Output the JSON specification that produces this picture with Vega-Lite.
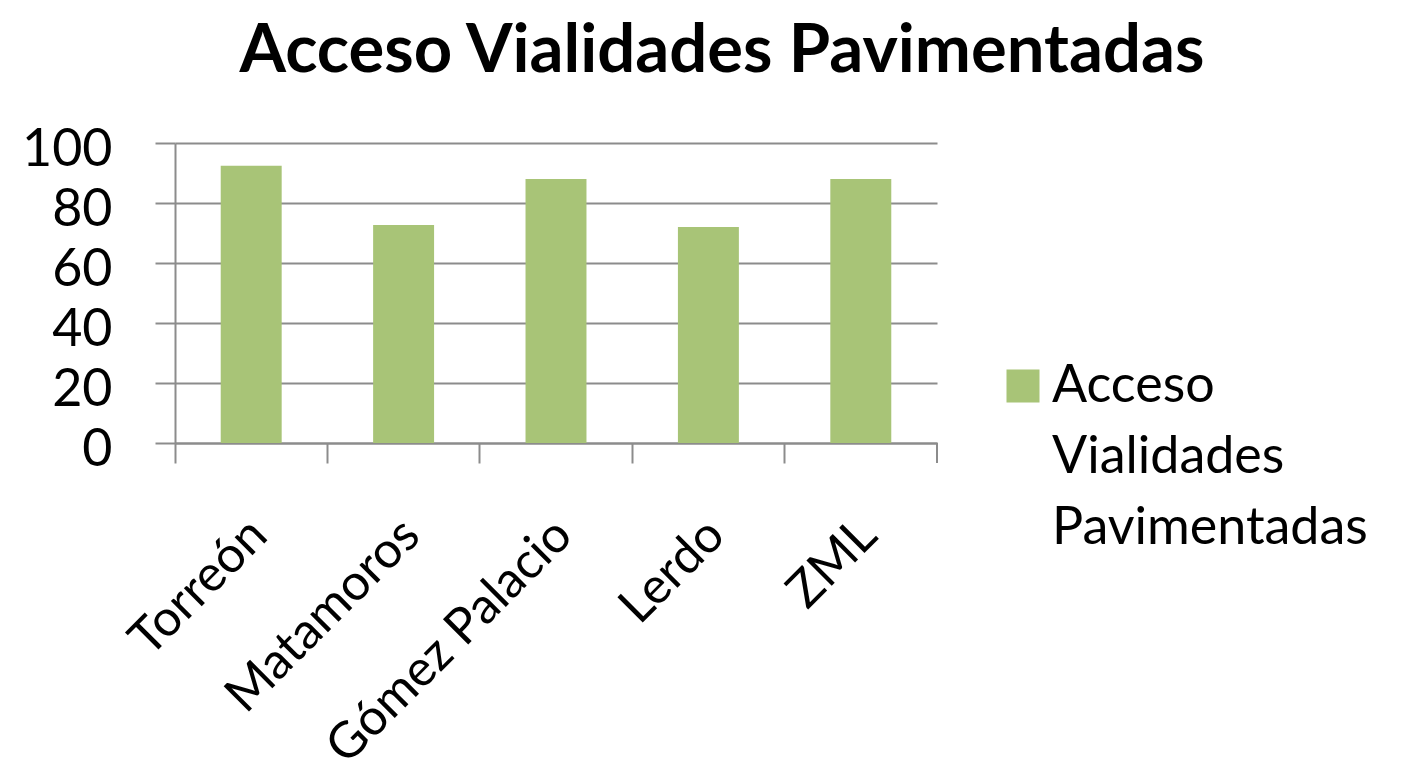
{
  "$schema": "https://vega.github.io/schema/vega-lite/v6.json",
  "width": 762,
  "height": 300,
  "autosize": {"type": "none"},
  "padding": {"left": 175, "top": 143, "right": 465, "bottom": 326},
  "background": "white",
  "title": {
    "text": "Acceso Vialidades Pavimentadas",
    "font": "Lato",
    "fontWeight": "bold",
    "fontSize": 67,
    "color": "#000000",
    "anchor": "middle",
    "frame": "group",
    "dx": 166,
    "offset": 37
  },
  "data": {
    "values": [
      {"Municipio": "Torreón", "Serie": "Acceso Vialidades Pavimentadas", "Valor": 92.4},
      {"Municipio": "Matamoros", "Serie": "Acceso Vialidades Pavimentadas", "Valor": 72.7},
      {"Municipio": "Gómez Palacio", "Serie": "Acceso Vialidades Pavimentadas", "Valor": 88.0},
      {"Municipio": "Lerdo", "Serie": "Acceso Vialidades Pavimentadas", "Valor": 72.0},
      {"Municipio": "ZML", "Serie": "Acceso Vialidades Pavimentadas", "Valor": 88.0}
    ]
  },
  "layer": [
    {
      "mark": {"type": "bar", "width": {"band": 0.4}},
      "encoding": {
        "x": {
          "field": "Municipio",
          "type": "nominal",
          "sort": null,
          "scale": {"paddingInner": 0, "paddingOuter": 0},
          "axis": {
            "title": null,
            "bandPosition": 0,
            "labelAngle": -45,
            "labelAlign": "right",
            "labelBaseline": "middle",
            "labelOffset": 8,
            "labelPadding": 64,
            "labelLimit": 500,
            "labelFont": "Lato",
            "labelFontSize": 50,
            "labelColor": "#000000",
            "tickSize": 20,
            "tickColor": "#8c8c8c",
            "tickWidth": 2,
            "domainColor": "#8c8c8c",
            "domainWidth": 2,
            "grid": false
          }
        },
        "y": {
          "field": "Valor",
          "type": "quantitative",
          "scale": {"domain": [0, 100]},
          "axis": {
            "title": null,
            "values": [0, 20, 40, 60, 80, 100],
            "labelFont": "Lato",
            "labelFontSize": 52,
            "labelColor": "#000000",
            "labelPadding": 43,
            "labelOffset": 6,
            "tickSize": 20,
            "tickColor": "#8c8c8c",
            "tickWidth": 2,
            "domainColor": "#8c8c8c",
            "domainWidth": 2,
            "grid": true,
            "gridColor": "#8c8c8c",
            "gridWidth": 2
          }
        },
        "color": {
          "field": "Serie",
          "type": "nominal",
          "scale": {"range": ["#a8c477"]},
          "legend": {
            "title": null,
            "orient": "none",
            "legendX": 822,
            "legendY": 217,
            "symbolType": "square",
            "symbolSize": 1089,
            "symbolStrokeWidth": 0,
            "labelOffset": 3,
            "labelFont": "Lato",
            "labelFontSize": 52,
            "labelColor": "#000000",
            "labelLimit": 500,
            "labelExpr": "['Acceso', 'Vialidades', 'Pavimentadas']",
            "encode": {"labels": {"update": {"lineHeight": {"value": 71}}}}
          }
        }
      }
    },
    {
      "transform": [{"filter": "datum.Municipio === 'ZML'"}],
      "mark": {"type": "rule", "color": "#8c8c8c", "strokeWidth": 2},
      "encoding": {
        "x": {"field": "Municipio", "type": "nominal", "sort": null, "bandPosition": 1},
        "y": {"datum": 0},
        "y2": {"datum": -6.7}
      }
    }
  ],
  "config": {
    "view": {"stroke": null}
  }
}
